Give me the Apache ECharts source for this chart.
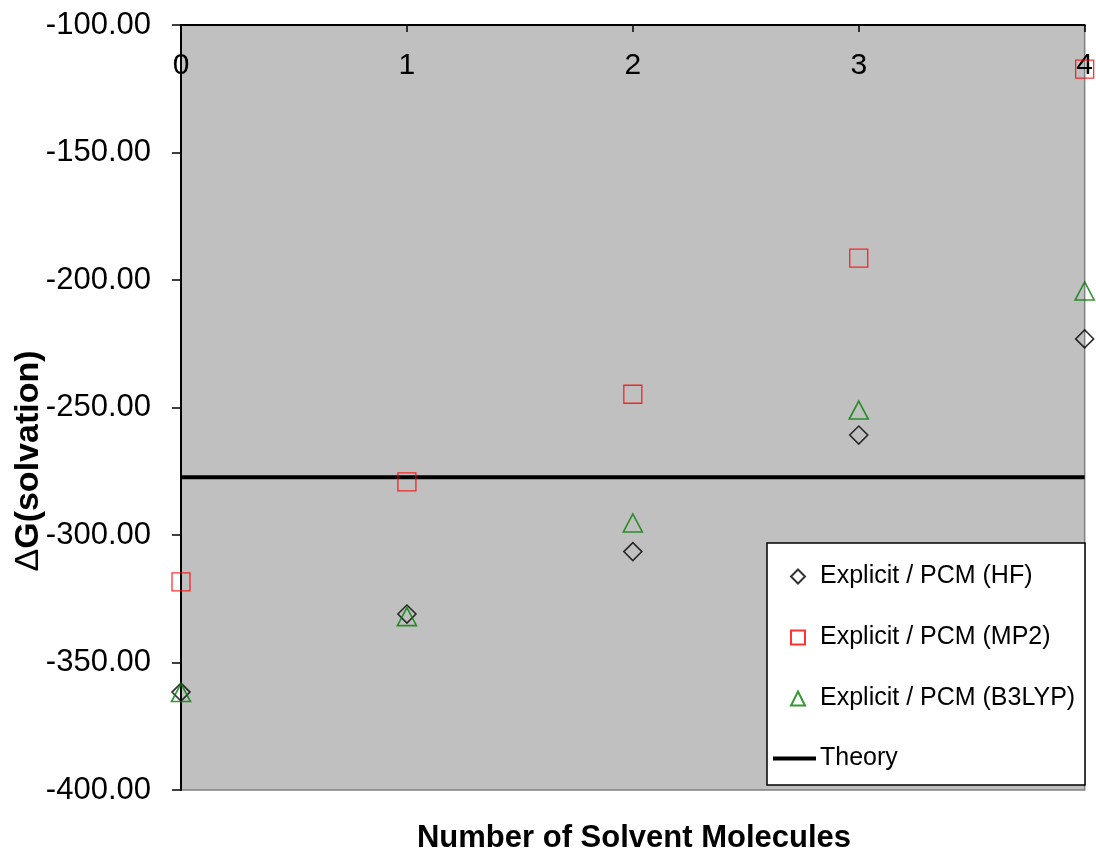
<!DOCTYPE html>
<html>
<head>
<meta charset="utf-8">
<script src="https://cdn.jsdelivr.net/npm/echarts@6/dist/echarts.min.js"></script>
<style>
  html, body { margin: 0; padding: 0; background: #ffffff; }
  #chart { width: 1096px; height: 852px; }
</style>
</head>
<body>
<div id="chart"></div>
<script>
// Solvation free energy vs. number of explicit solvent molecules
const solventCounts = [0, 1, 2, 3, 4];
const hfValues    = [-361.6, -331.0, -306.5, -260.8, -223.1];
const mp2Values   = [-318.4, -279.2, -244.8, -191.4, -117.3];
const b3lypValues = [-361.8, -332.0, -295.3, -251.0, -204.3];
const theoryValue = -277.4;
const seriesNames = ['Explicit / PCM (HF)', 'Explicit / PCM (MP2)', 'Explicit / PCM (B3LYP)', 'Theory'];

const FONT = '"Liberation Sans", Arial, sans-serif';
const pairs = vals => solventCounts.map((n, i) => [n, vals[i]]);

const chart = echarts.init(document.getElementById('chart'), null, { renderer: 'canvas' });

const legendText = { fontSize: 25, color: '#000', fontFamily: FONT };

chart.setOption({
  backgroundColor: '#ffffff',
  animation: false,
  grid: {
    left: 181, right: 8, top: 25, bottom: 62,
    show: true,
    backgroundColor: '#c0c0c0',
    borderColor: '#808080',
    borderWidth: 1.5
  },
  xAxis: {
    type: 'value',
    position: 'top',
    min: 0, max: 4, interval: 1,
    axisLine: { show: true, onZero: false, lineStyle: { color: '#000', width: 2 } },
    axisTick: { show: true, inside: true, length: 7, lineStyle: { color: '#000', width: 1.5 } },
    axisLabel: { inside: true, margin: 26, fontSize: 30, color: '#000', fontFamily: FONT },
    splitLine: { show: false }
  },
  yAxis: {
    type: 'value',
    min: -400, max: -100, interval: 50,
    axisLine: { show: true, onZero: false, lineStyle: { color: '#000', width: 2 } },
    axisTick: { show: true, inside: false, length: 9, lineStyle: { color: '#000', width: 1.5 } },
    axisLabel: {
      margin: 30, fontSize: 31, color: '#000', fontFamily: FONT,
      formatter: v => v.toFixed(2)
    },
    splitLine: { show: false }
  },
  legend: [
    {
      // marker entries
      orient: 'vertical',
      left: 790, top: 564,
      padding: 0,
      itemGap: 36,
      itemWidth: 14, itemHeight: 14,
      textStyle: Object.assign({ padding: [0, 0, 0, 10] }, legendText),
      data: seriesNames.slice(0, 3),
      z: 10
    },
    {
      // reference line entry
      orient: 'vertical',
      left: 773, top: 746,
      padding: 0,
      itemWidth: 43, itemHeight: 4,
      textStyle: Object.assign({ padding: [0, 0, 0, -1] }, legendText),
      data: [{ name: seriesNames[3], icon: 'rect' }],
      z: 10
    }
  ],
  graphic: [
    {
      type: 'rect',
      z: 5,
      shape: { x: 767, y: 543, width: 318, height: 242 },
      style: { fill: '#ffffff', stroke: '#000000', lineWidth: 1.5 }
    },
    {
      type: 'text',
      x: 29, y: 461,
      rotation: Math.PI / 2,
      style: {
        text: '{d|Δ}{g|G(solvation)}',
        align: 'center', verticalAlign: 'middle',
        rich: {
          d: { fontSize: 34, fontFamily: FONT, fontWeight: 'normal', fill: '#000' },
          g: { fontSize: 34, fontFamily: FONT, fontWeight: 'bold', fill: '#000' }
        }
      }
    },
    {
      type: 'text',
      x: 634, y: 838,
      style: {
        text: 'Number of Solvent Molecules',
        align: 'center', verticalAlign: 'middle',
        fontSize: 31, fontWeight: 'bold', fontFamily: FONT, fill: '#000'
      }
    }
  ],
  series: [
    {
      name: seriesNames[3],
      type: 'line',
      data: [[solventCounts[0], theoryValue], [solventCounts[solventCounts.length - 1], theoryValue]],
      symbol: 'none',
      lineStyle: { color: '#000', width: 4 },
      itemStyle: { color: '#000' },
      z: 2
    },
    {
      name: seriesNames[0],
      type: 'scatter',
      data: pairs(hfValues),
      symbol: 'diamond',
      symbolSize: 18,
      itemStyle: { color: 'transparent', borderColor: '#000000', borderWidth: 1.6 },
      z: 3
    },
    {
      name: seriesNames[1],
      type: 'scatter',
      data: pairs(mp2Values),
      symbol: 'rect',
      symbolSize: 18,
      itemStyle: { color: 'transparent', borderColor: '#ff0000', borderWidth: 1.3 },
      z: 3
    },
    {
      name: seriesNames[2],
      type: 'scatter',
      data: pairs(b3lypValues),
      symbol: 'triangle',
      symbolSize: [19, 18],
      itemStyle: { color: 'transparent', borderColor: '#008000', borderWidth: 1.6 },
      z: 3
    }
  ]
});
</script>
</body>
</html>
